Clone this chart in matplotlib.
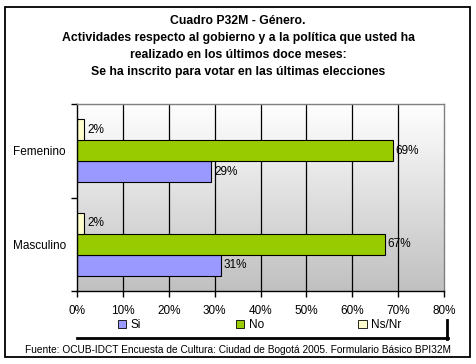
import numpy as np
import matplotlib
matplotlib.use('Agg')
from matplotlib import pyplot as plt
from matplotlib.patches import Patch, Rectangle
from matplotlib.lines import Line2D

plt.rcParams['font.family'] = ['Liberation Sans', 'DejaVu Sans']

categorias = ['Masculino', 'Femenino']
si = [31.3, 29.3]
no = [67.1, 68.9]
ns_nr = [1.6, 1.6]
etiquetas_si = ['31%', '29%']
etiquetas_no = ['67%', '69%']
etiquetas_ns = ['2%', '2%']
series = ['Si', 'No', 'Ns/Nr']
colores = ['#9999ff', '#99cc00', '#ffffcc']
x_ticks = list(range(0, 90, 10))
titulo = ['Cuadro P32M - Género.',
          'Actividades respecto al gobierno y a la política que usted ha',
          'realizado en los últimos doce meses:',
          'Se ha inscrito para votar en las últimas elecciones']
fuente = 'Fuente: OCUB-IDCT Encuesta de Cultura: Ciudad de Bogotá 2005. Formulario Básico BPI32M'

W, H = 476, 364
fig = plt.figure(figsize=(W / 100, H / 100), dpi=100, facecolor='white')

def fx(px):
    return px / W

def fy(py):
    return 1 - py / H

# marco exterior
fig.add_artist(Rectangle((fx(5), fy(357)), fx(465), 350 / H, fill=False,
                         edgecolor='black', lw=1.3, transform=fig.transFigure))

ax = fig.add_axes([fx(77), fy(291), fx(444 - 77), (291 - 104) / H])

# fondo degradado
grad = np.linspace(1, 0, 256).reshape(-1, 1)
ax.imshow(grad, extent=[0, 80, -0.5, 1.5], aspect='auto', origin='upper',
          cmap=matplotlib.colors.LinearSegmentedColormap.from_list('g', ['#c0c0c0', '#ffffff']),
          zorder=0)
ax.vlines(x_ticks[1:-1], -0.5, 1.5, colors='black', lw=0.9, zorder=1)

y = np.arange(len(categorias))
h = 0.225
datos = [si, no, ns_nr]
etiquetas = [etiquetas_si, etiquetas_no, etiquetas_ns]
for i, (vals, col, labs) in enumerate(zip(datos, colores, etiquetas)):
    pos = y + (i - 1) * h
    ax.barh(pos, vals, height=h, color=col, edgecolor='black', lw=0.8, zorder=2)
    for p, v, l in zip(pos, vals, labs):
        ax.text(v + 0.6, p, l, va='center', ha='left', fontsize=8.5, zorder=3)

ax.set_xlim(0, 80)
ax.set_ylim(-0.5, 1.5)
ax.set_xticks(x_ticks)
ax.set_xticklabels([f'{t}%' for t in x_ticks], fontsize=8.5)
ax.set_yticks(y)
ax.set_yticklabels(categorias, fontsize=8.5)
ax.set_yticks([-0.5, 0.5, 1.5], minor=True)
ax.tick_params(axis='y', which='major', length=0, pad=8)
ax.tick_params(axis='y', which='minor', length=4, width=1, direction='out')
ax.tick_params(axis='x', length=4, width=1, direction='out', pad=6)
for s in ['left', 'bottom']:
    ax.spines[s].set_color('black')
    ax.spines[s].set_linewidth(1)
for s in ['top', 'right']:
    ax.spines[s].set_color('#808080')
    ax.spines[s].set_linewidth(1)

# titulo
for i, linea in enumerate(titulo):
    fig.text(0.5, fy(21 + i * 17), linea, ha='center', va='center',
             fontsize=8.8, fontweight='bold')

# leyenda
handles = [Patch(facecolor=c, edgecolor='black', lw=0.6, label=s)
           for c, s in zip(colores, series)]
fig.legend(handles=handles, loc='center left', bbox_to_anchor=(fx(118), fy(325)),
           ncol=3, frameon=False, fontsize=8.5, handlelength=0.7, handleheight=0.7,
           handletextpad=0.4, columnspacing=8.0, borderpad=0, borderaxespad=0)
fig.add_artist(Line2D([fx(77), fx(448)], [fy(338), fy(338)], color='black', lw=2,
                      transform=fig.transFigure))
fig.add_artist(Line2D([fx(447), fx(447)], [fy(320), fy(339)], color='black', lw=2,
                      transform=fig.transFigure))

fig.text(0.5, fy(350), fuente, ha='center', va='center', fontsize=7.3)

fig.savefig('out.png', dpi=100, facecolor='white')
